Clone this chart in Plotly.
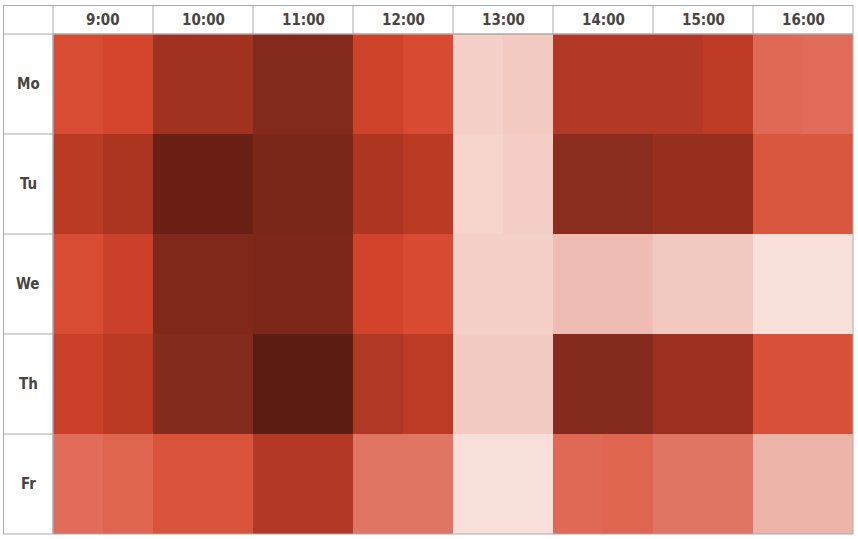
import plotly.graph_objects as go

days = ["Mo", "Tu", "We", "Th", "Fr"]
hour_labels = ["9:00", "10:00", "11:00", "12:00", "13:00", "14:00", "15:00", "16:00"]
slots = ["9:00", "9:30", "10:00", "10:30", "11:00", "11:30", "12:00", "12:30",
         "13:00", "13:30", "14:00", "14:30", "15:00", "15:30", "16:00", "16:30"]

mo = [47, 50, 70, 70, 81, 81, 53, 48, 14, 16, 64, 64, 64, 59, 38, 37]
tu = [61, 67, 91, 91, 85, 85, 66, 61, 13, 15, 78, 78, 74, 74, 43, 43]
we = [47, 55, 82, 82, 84, 84, 51, 48, 14, 14, 22, 22, 17, 17, 8, 8]
th = [55, 61, 80, 80, 99, 99, 65, 60, 16, 16, 80, 80, 72, 72, 45, 45]
fr = [37, 39, 44, 44, 64, 64, 34, 34, 8, 8, 38, 39, 34, 34, 24, 24]

z = [mo, tu, we, th, fr]

colorscale = [
    [0.00, "#fbe8e4"], [0.08, "#f9dfda"], [0.14, "#f5d0c8"], [0.16, "#f3cbc3"],
    [0.22, "#efbcb4"], [0.24, "#edb4aa"], [0.34, "#e07563"], [0.38, "#e06955"],
    [0.44, "#d9533b"], [0.48, "#d84a31"], [0.51, "#d3432b"], [0.55, "#ca4029"],
    [0.60, "#bd3a24"], [0.64, "#b33825"], [0.67, "#aa3420"], [0.72, "#9d3020"],
    [0.78, "#8a2c1e"], [0.82, "#80291b"], [0.85, "#7a2618"], [0.91, "#6b2015"],
    [1.00, "#5a1c12"],
]

W, H = 858, 539
ml, mr, mt, mb = 53, 5, 34, 5
pw, ph = W - ml - mr, H - mt - mb

fig = go.Figure(go.Heatmap(
    z=z, x=list(range(len(slots))), y=list(range(len(days))),
    zmin=0, zmax=100, colorscale=colorscale, showscale=False,
    customdata=[[s for s in slots] for _ in days],
    hovertemplate="%{customdata}: %{z}<extra></extra>",
))

line_col = "#aaaaaa"
left_px = 3.5
top_px = 5.5
px_left = -(ml - left_px) / pw
py_top = 1 + (mt - top_px) / ph

shapes = []
shapes.append(dict(type="rect", xref="paper", yref="paper", x0=0, x1=1, y0=0, y1=1,
                   line=dict(color=line_col, width=1)))
shapes.append(dict(type="rect", xref="paper", yref="paper", x0=px_left, x1=1, y0=1, y1=py_top,
                   line=dict(color=line_col, width=1)))
shapes.append(dict(type="rect", xref="paper", yref="paper", x0=px_left, x1=0, y0=0, y1=py_top,
                   line=dict(color=line_col, width=1)))
for i in range(1, len(hour_labels)):
    shapes.append(dict(type="line", xref="x", yref="paper", x0=2 * i - 0.5, x1=2 * i - 0.5,
                       y0=1, y1=py_top, line=dict(color=line_col, width=1)))
for j in range(1, len(days)):
    shapes.append(dict(type="line", xref="paper", yref="y", x0=px_left, x1=0,
                       y0=j - 0.5, y1=j - 0.5, line=dict(color=line_col, width=1)))

font = dict(family="Liberation Sans Narrow, DejaVu Sans Condensed, Arial Narrow, sans-serif",
            size=15, color="#4a4440")
annotations = []
for i, h in enumerate(hour_labels):
    annotations.append(dict(x=2 * i + 0.5, y=(1 + py_top) / 2, xref="x", yref="paper",
                            text="<b>%s</b>" % h, showarrow=False, font=font,
                            xanchor="center", yanchor="middle"))
for j, d in enumerate(days):
    annotations.append(dict(x=px_left / 2, y=j, xref="paper", yref="y",
                            text="<b>%s</b>" % d, showarrow=False, font=font,
                            xanchor="center", yanchor="middle"))

fig.update_layout(
    width=W, height=H,
    margin=dict(l=ml, r=mr, t=mt, b=mb),
    paper_bgcolor="white", plot_bgcolor="white",
    xaxis=dict(range=[-0.5, len(slots) - 0.5], visible=False, fixedrange=True),
    yaxis=dict(range=[len(days) - 0.5, -0.5], visible=False, fixedrange=True),
    shapes=shapes, annotations=annotations,
)

fig.write_html("out.html", config={"displayModeBar": False},
               post_script="document.body.style.margin='0';document.body.style.overflow='hidden';")
